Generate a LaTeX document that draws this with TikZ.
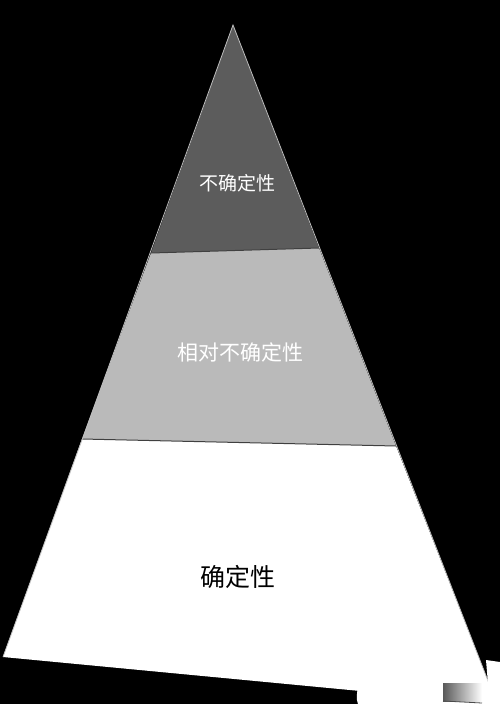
\documentclass[tikz,border=0pt]{standalone}
\usepackage{fontspec}
\newfontfamily\cjk{Noto Sans CJK SC}
\begin{document}
\begin{tikzpicture}[x=1pt,y=-1pt,
  edge/.style={draw=black!75, line width=1pt},
  side/.style={draw=white!75!black, line width=0.8pt},
  lbl/.style={font=\cjk, inner sep=0pt}]
\fill[black] (0,0) rectangle (500,704);
\useasboundingbox (0,0) rectangle (500,704);
% corners
\coordinate (A) at (233,25);
\coordinate (L1) at (151,253);
\coordinate (R1) at (319,248);
\coordinate (L2) at (82,439);
\coordinate (R2) at (396,446);
\coordinate (L3) at (3,657);
\coordinate (R3) at (497,704);
% layers
\fill[black!64] (A) -- (R1) -- (L1) -- cycle;
\fill[black!27] (L1) -- (R1) -- (R2) -- (L2) -- cycle;
\fill[white] (L2) -- (R2) -- (R3) -- (L3) -- cycle;
% separators
\draw[edge] (L1) -- (R1);
\draw[edge] (L2) -- (R2);
\draw[side] (L3) -- (A) -- (R3);
% watermark-like patch at bottom right
\fill[white] (354,679) .. controls (362,684) and (354,694) .. (358,704) -- (500,704) -- (500,662) -- (486,660) -- (488,684) -- cycle;
\shade[left color=black!65, right color=white] (443,683) rectangle (482,701);
\draw[black!70, line width=0.8pt] (443,701) -- (482,703);
% labels
\node[lbl, text=white, font=\cjk\fontsize{19}{19}\selectfont] (t1) at (237,183) {不确定性};
\node[lbl, text=white, font=\cjk\fontsize{21}{21}\selectfont] (t2) at (240,352) {相对不确定性};
\node[lbl, text=black, font=\cjk\fontsize{25}{25}\selectfont] (t3) at (238,577) {确定性};
\end{tikzpicture}
\end{document}
